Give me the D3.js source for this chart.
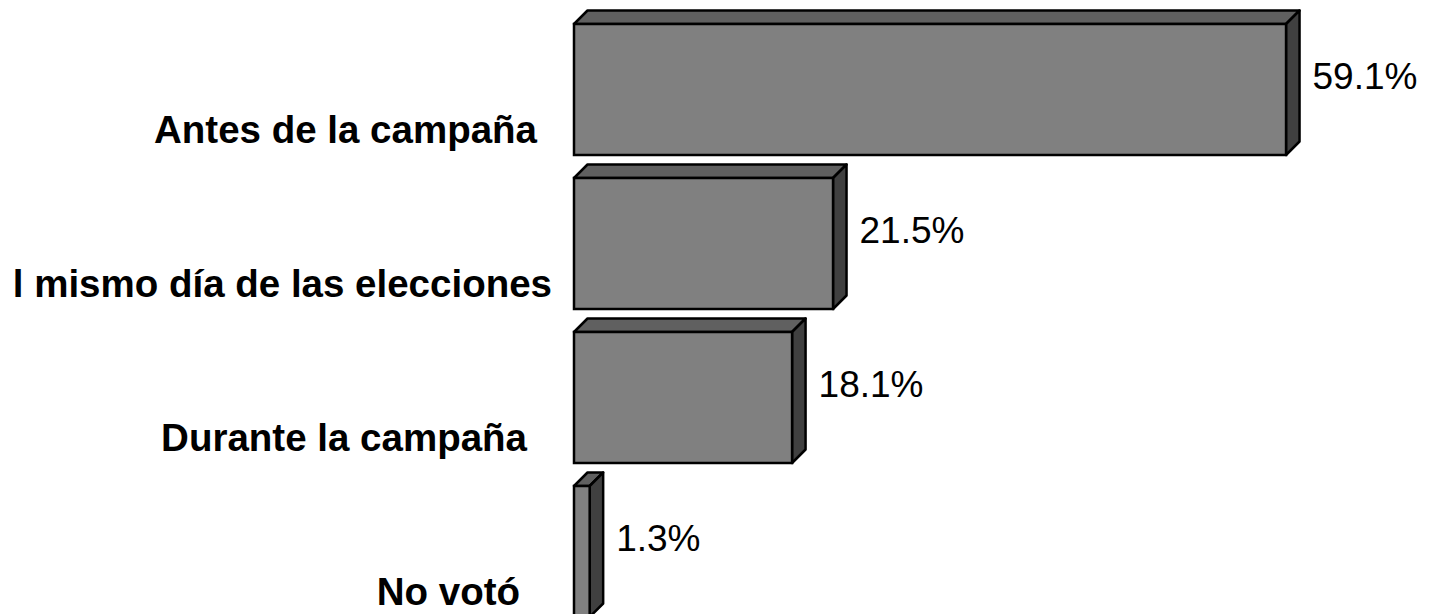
<!DOCTYPE html>
<html>
<head>
<meta charset="utf-8">
<script src="https://cdn.jsdelivr.net/npm/d3@7"></script>
<style>
  html, body { margin: 0; padding: 0; background: #ffffff; overflow: hidden; }
  svg { display: block; }
</style>
</head>
<body>
<svg id="chart" width="1442" height="614"></svg>
<script>
// ---- data ----
const categories = ["Antes de la campaña", "l mismo día de las elecciones", "Durante la campaña", "No votó"];
const values = [59.1, 21.5, 18.1, 1.3];
const valueLabels = ["59.1%", "21.5%", "18.1%", "1.3%"];

// ---- layout (not data) ----
const depth = 13.5;
const labelRightEdge = [537, 552, 527, 520];

const svg = d3.select("#chart");

const x = d3.scaleLinear().domain([0, 60]).range([574, 574 + 60 * 12.048]);
const y = d3.scaleBand().domain(categories).range([24, 24 + 3 * 154 + 131])
  .paddingInner(23 / 154).paddingOuter(0);

const g = svg.append("g");

const bars = g.selectAll("g.bar").data(categories.map((c, i) => ({ c, v: values[i], lab: valueLabels[i], i })))
  .enter().append("g").attr("class", "bar");

// top face
bars.append("path")
  .attr("d", d => {
    const x0 = x(0), x1 = x(d.v), y0 = y(d.c);
    return `M${x0},${y0} L${x0 + depth},${y0 - depth} L${x1 + depth},${y0 - depth} L${x1},${y0} Z`;
  })
  .attr("fill", "#606060").attr("stroke", "#000").attr("stroke-width", 2.5).attr("stroke-linejoin", "round");

// side face
bars.append("path")
  .attr("d", d => {
    const x1 = x(d.v), y0 = y(d.c), y1 = y0 + y.bandwidth();
    return `M${x1},${y0} L${x1 + depth},${y0 - depth} L${x1 + depth},${y1 - depth} L${x1},${y1} Z`;
  })
  .attr("fill", "#404040").attr("stroke", "#000").attr("stroke-width", 2.5).attr("stroke-linejoin", "round");

// front face
bars.append("rect")
  .attr("x", x(0))
  .attr("y", d => y(d.c))
  .attr("width", d => x(d.v) - x(0))
  .attr("height", y.bandwidth())
  .attr("fill", "#808080").attr("stroke", "#000").attr("stroke-width", 2.5);

// value labels
bars.append("text")
  .attr("x", d => x(d.v) + depth + 13)
  .attr("y", d => y(d.c) - depth + y.bandwidth() / 2 + 13)
  .attr("font-family", "Liberation Sans, Arial, sans-serif")
  .attr("font-size", 37)
  .attr("fill", "#000")
  .text(d => d.lab);

// category labels
g.selectAll("text.cat").data(categories).enter().append("text")
  .attr("class", "cat")
  .attr("x", (d, i) => labelRightEdge[i])
  .attr("y", d => y(d) + 119)
  .attr("text-anchor", "end")
  .attr("font-family", "Liberation Sans, Arial, sans-serif")
  .attr("font-weight", "bold")
  .attr("font-size", 38.5)
  .attr("fill", "#000")
  .text(d => d);
</script>
</body>
</html>
